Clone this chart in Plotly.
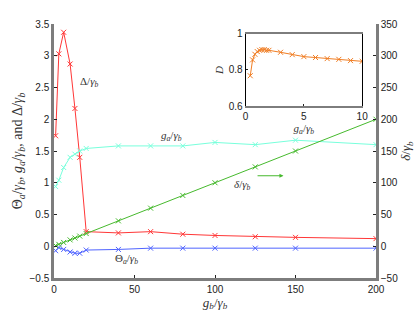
import plotly.graph_objects as go

# ---- data ----
gb = [1, 3, 6, 10, 13, 16, 20, 40, 60, 80, 100, 125, 150, 200]
Delta = [1.74, 3.03, 3.37, 2.87, 2.17, 1.40, 0.23, 0.21, 0.23, 0.19, 0.17, 0.15, 0.14, 0.12]
ga = [0.94, 1.04, 1.24, 1.40, 1.45, 1.50, 1.54, 1.58, 1.58, 1.58, 1.635, 1.60, 1.67, 1.60]
Theta = [-0.07, -0.02, -0.05, -0.09, -0.11, -0.11, -0.06, -0.05, -0.03, -0.03, -0.03, -0.03, -0.03, -0.03]
delta = [1, 3, 6, 10, 13, 16, 20, 40, 60, 80, 100, 125, 150, 200]

ga_in = [0.4, 0.6, 0.8, 1.0, 1.2, 1.4, 1.6, 1.8, 2, 3, 4, 5, 6, 7, 8, 9, 10]
D_in = [0.768, 0.856, 0.887, 0.902, 0.909, 0.913, 0.913, 0.909, 0.909, 0.898,
        0.885, 0.874, 0.869, 0.863, 0.859, 0.852, 0.848]

left_ticks = [-0.5, 0, 0.5, 1, 1.5, 2, 2.5, 3, 3.5]
right_ticks = [-50, 0, 50, 100, 150, 200, 250, 300, 350]
x_ticks = [0, 50, 100, 150, 200]

RED = "rgb(255,55,55)"
CYAN = "rgb(120,255,220)"
GREEN = "rgb(70,185,45)"
BLUE = "rgb(80,100,255)"
ORANGE = "rgb(240,125,35)"
GRAY = "rgb(125,125,125)"
SERIF = "Liberation Serif"
SANS = "Liberation Sans"

def mk(color):
    return dict(symbol="x-thin", size=5, line=dict(color=color, width=1))

fig = go.Figure()
fig.add_trace(go.Scatter(x=gb, y=Delta, mode="lines+markers", line=dict(color=RED, width=1),
                         marker=mk(RED), xaxis="x", yaxis="y"))
fig.add_trace(go.Scatter(x=gb, y=ga, mode="lines+markers", line=dict(color=CYAN, width=1),
                         marker=mk(CYAN), xaxis="x", yaxis="y"))
fig.add_trace(go.Scatter(x=gb, y=Theta, mode="lines+markers", line=dict(color=BLUE, width=1),
                         marker=mk(BLUE), xaxis="x", yaxis="y"))
fig.add_trace(go.Scatter(x=gb, y=delta, mode="lines+markers", line=dict(color=GREEN, width=1),
                         marker=mk(GREEN), xaxis="x", yaxis="y2"))
fig.add_trace(go.Scatter(x=ga_in, y=D_in, mode="lines+markers", line=dict(color=ORANGE, width=1),
                         marker=mk(ORANGE), xaxis="x3", yaxis="y3"))

tickfont = dict(family=SANS, size=10, color="#222")
titlefont = dict(family=SERIF, size=13, color="#333")

fig.update_layout(
    width=415, height=313,
    margin=dict(l=54, r=39, t=24, b=35),
    paper_bgcolor="white", plot_bgcolor="white",
    showlegend=False,
    xaxis=dict(range=[0, 200], tickvals=x_ticks, ticks="inside", ticklen=3, tickcolor="#222",
               showline=True, linecolor=GRAY, linewidth=2.5, showgrid=False, zeroline=False,
               tickfont=tickfont, automargin=False,
               title=dict(text="<i>g<sub>b</sub></i>/<i>γ<sub>b</sub></i>",
                          font=titlefont, standoff=1)),
    xaxis2=dict(range=[0, 200], overlaying="x", side="top", tickvals=x_ticks, ticks="inside",
                ticklen=3, tickcolor="#222", showticklabels=False, showline=True,
                linecolor="black", linewidth=1, showgrid=False, zeroline=False, automargin=False),
    yaxis=dict(range=[-0.5, 3.5], tickvals=left_ticks, ticks="inside", ticklen=3, tickcolor="#222",
               showline=True, linecolor=GRAY, linewidth=2.5, showgrid=False, zeroline=False,
               tickfont=tickfont, automargin=False,
               title=dict(text="Θ<i><sub>a</sub></i>/<i>γ<sub>b</sub></i>, <i>g<sub>a</sub></i>/<i>γ<sub>b</sub></i>, and Δ/<i>γ<sub>b</sub></i>",
                          font=dict(family=SERIF, size=14, color="#333"), standoff=4)),
    yaxis2=dict(range=[-50, 350], tickvals=right_ticks, ticks="inside", ticklen=3, tickcolor="#222",
                overlaying="y", side="right", anchor="x",
                showline=True, linecolor=GRAY, linewidth=2.5, showgrid=False, zeroline=False,
                tickfont=tickfont, automargin=False,
                title=dict(text="<i>δ</i>/<i>γ<sub>b</sub></i>", font=titlefont, standoff=9)),
    xaxis3=dict(domain=[0.595, 0.957], anchor="y3", range=[0, 10], tickvals=[0, 5, 10],
                ticks="inside", ticklen=2, tickcolor="#222", showline=True, linecolor=GRAY,
                linewidth=2, mirror=True, showgrid=False, zeroline=False, tickfont=tickfont,
                automargin=False,
                title=dict(text="<i>g<sub>a</sub></i>/<i>γ<sub>b</sub></i>",
                           font=dict(family=SERIF, size=11, color="#333"), standoff=0)),
    yaxis3=dict(domain=[0.677, 0.961], anchor="x3", range=[0.6, 1], tickvals=[0.6, 0.8, 1],
                ticktext=["0.6", "0.8", "1"],
                ticks="inside", ticklen=2, tickcolor="#222", showline=True, linecolor="black",
                linewidth=1, mirror=True, showgrid=False, zeroline=False, tickfont=tickfont,
                automargin=False,
                title=dict(text="<i>D</i>", font=dict(family=SERIF, size=11, color="#333"),
                           standoff=2)),
)

annfont = dict(family=SERIF, size=11, color="#333")
fig.add_annotation(x=21.5, y=2.59, xref="x", yref="y", text="Δ/<i>γ<sub>b</sub></i>",
                   showarrow=False, font=annfont)
fig.add_annotation(x=73, y=1.73, xref="x", yref="y", text="<i>g<sub>a</sub></i>/<i>γ<sub>b</sub></i>",
                   showarrow=False, font=annfont)
fig.add_annotation(x=45, y=-0.2, xref="x", yref="y", text="Θ<i><sub>a</sub></i>/<i>γ<sub>b</sub></i>",
                   showarrow=False, font=annfont)
fig.add_annotation(x=117, y=0.97, xref="x", yref="y", text="<i>δ</i>/<i>γ<sub>b</sub></i>",
                   showarrow=False, font=annfont)
fig.add_annotation(x=142.5, y=1.11, ax=125.5, ay=1.11, xref="x", yref="y", axref="x", ayref="y",
                   text="", showarrow=True, arrowhead=2, arrowsize=0.8, arrowwidth=1,
                   arrowcolor=GREEN)

fig.write_html("out.html", config={"displayModeBar": False},
               post_script="document.body.style.margin='0px';")
